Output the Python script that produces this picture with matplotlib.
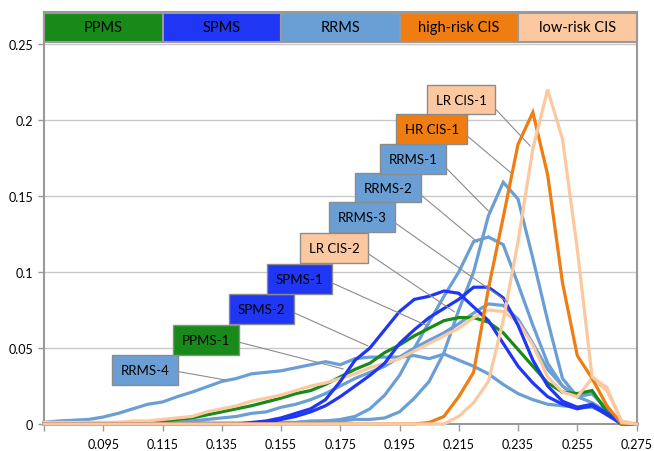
import matplotlib
matplotlib.use("Agg")
import matplotlib.pyplot as plt
from matplotlib.patches import Rectangle

plt.rcParams['font.family'] = ['Lato', 'DejaVu Sans']

# bin centres (category axis)
bins = [0.075, 0.080, 0.085, 0.090, 0.095, 0.100, 0.105, 0.110, 0.115, 0.120,
        0.125, 0.130, 0.135, 0.140, 0.145, 0.150, 0.155, 0.160, 0.165, 0.170,
        0.175, 0.180, 0.185, 0.190, 0.195, 0.200, 0.205, 0.210, 0.215, 0.220,
        0.225, 0.230, 0.235, 0.240, 0.245, 0.250, 0.255, 0.260, 0.265, 0.270,
        0.275]

rrms_4 = [0.001, 0.002, 0.0025, 0.003, 0.0046, 0.007, 0.010, 0.013, 0.0145, 0.018,
          0.021, 0.0245, 0.028, 0.030, 0.033, 0.034, 0.035, 0.037, 0.039, 0.041,
          0.039, 0.043, 0.044, 0.044, 0.044, 0.045, 0.043, 0.046, 0.042, 0.038,
          0.033, 0.026, 0.020, 0.016, 0.013, 0.012, 0.011, 0.011, 0.007, 0.001,
          0.0]
rrms_3 = [0.001, 0.001, 0.001, 0.001, 0.001, 0.001, 0.001, 0.001, 0.001, 0.001,
          0.002, 0.003, 0.004, 0.005, 0.007, 0.008, 0.011, 0.013, 0.016, 0.020,
          0.025, 0.030, 0.034, 0.038, 0.044, 0.050, 0.055, 0.060, 0.066, 0.073,
          0.079, 0.078, 0.069, 0.053, 0.036, 0.025, 0.018, 0.020, 0.010, 0.0,
          0.0]
rrms_2 = [0.0005, 0.0005, 0.0005, 0.0005, 0.0005, 0.0005, 0.0005, 0.0005, 0.0005, 0.0005,
          0.0005, 0.0005, 0.0005, 0.0005, 0.0005, 0.0005, 0.001, 0.001, 0.002, 0.002,
          0.003, 0.005, 0.010, 0.019, 0.032, 0.050, 0.067, 0.084, 0.100, 0.120,
          0.123, 0.118, 0.092, 0.065, 0.040, 0.025, 0.018, 0.020, 0.010, 0.0,
          0.0]
rrms_1 = [0.0005, 0.0005, 0.0005, 0.0005, 0.0005, 0.0005, 0.0005, 0.0005, 0.0005, 0.0005,
          0.0005, 0.0005, 0.0005, 0.0005, 0.0005, 0.0005, 0.001, 0.001, 0.0015, 0.002,
          0.002, 0.003, 0.003, 0.004, 0.008, 0.017, 0.028, 0.047, 0.075, 0.100,
          0.137, 0.159, 0.148, 0.109, 0.068, 0.030, 0.018, 0.014, 0.008, 0.0,
          0.0]
ppms_1 = [0.0005, 0.0005, 0.0005, 0.0005, 0.0005, 0.0005, 0.0005, 0.0005, 0.002, 0.003,
          0.004, 0.006, 0.008, 0.010, 0.012, 0.0145, 0.017, 0.020, 0.022, 0.026,
          0.031, 0.036, 0.040, 0.047, 0.052, 0.058, 0.063, 0.068, 0.070, 0.070,
          0.067, 0.060, 0.049, 0.038, 0.027, 0.021, 0.020, 0.022, 0.008, 0.0,
          0.0]
spms_2 = [0.0, 0.0, 0.0, 0.0, 0.0, 0.0, 0.0, 0.0, 0.0, 0.0,
          0.0, 0.0, 0.0, 0.0, 0.001, 0.002, 0.004, 0.007, 0.010, 0.016,
          0.028, 0.042, 0.050, 0.062, 0.074, 0.082, 0.084, 0.0875, 0.086, 0.077,
          0.068, 0.053, 0.038, 0.027, 0.018, 0.013, 0.010, 0.012, 0.006, 0.0,
          0.0]
spms_1 = [0.0, 0.0, 0.0, 0.0, 0.0, 0.0, 0.0, 0.0, 0.0, 0.0,
          0.0, 0.0, 0.0, 0.0, 0.0, 0.001, 0.003, 0.005, 0.008, 0.012,
          0.018, 0.025, 0.032, 0.040, 0.053, 0.062, 0.070, 0.076, 0.082, 0.090,
          0.090, 0.083, 0.065, 0.042, 0.025, 0.015, 0.011, 0.013, 0.007, 0.0,
          0.0]
lr_cis_2 = [0.001, 0.001, 0.001, 0.001, 0.001, 0.001, 0.002, 0.002, 0.003, 0.004,
            0.005, 0.008, 0.010, 0.012, 0.015, 0.017, 0.019, 0.022, 0.025, 0.027,
            0.030, 0.033, 0.037, 0.040, 0.043, 0.048, 0.053, 0.058, 0.063, 0.070,
            0.075, 0.074, 0.067, 0.052, 0.031, 0.021, 0.018, 0.030, 0.022, 0.002,
            0.0]
hr_cis_1 = [0.0, 0.0, 0.0, 0.0, 0.0, 0.0, 0.0, 0.0, 0.0, 0.0,
            0.0, 0.0, 0.0, 0.0, 0.0, 0.0, 0.0, 0.0, 0.0, 0.0,
            0.0, 0.0, 0.0, 0.0, 0.0, 0.0, 0.001, 0.005, 0.018, 0.034,
            0.089, 0.136, 0.184, 0.205, 0.164, 0.093, 0.045, 0.030, 0.012, 0.0,
            0.0]
lr_cis_1 = [0.0, 0.0, 0.0, 0.0, 0.0, 0.0, 0.0, 0.0, 0.0, 0.0,
            0.0, 0.0, 0.0, 0.0, 0.0, 0.0, 0.0, 0.0, 0.0, 0.0,
            0.0, 0.0, 0.0, 0.0, 0.0, 0.0, 0.0, 0.0, 0.005, 0.014,
            0.028, 0.068, 0.120, 0.181, 0.220, 0.1875, 0.115, 0.031, 0.024, 0.001,
            0.0]

groups = ["PPMS", "SPMS", "RRMS", "high-risk CIS", "low-risk CIS"]

GREEN = '#178a1a'
BLUE = '#1f36f5'
LBLUE = '#6a9fd6'
ORANGE = '#f07d12'
PEACH = '#fbc8a0'
group_colors = [GREEN, BLUE, LBLUE, ORANGE, PEACH]

# (name, values, colour, label centre, leader end)
series = [
    ("RRMS-4", rrms_4, LBLUE, (0.1092, 0.0355), (0.1364, 0.0289)),
    ("RRMS-3", rrms_3, LBLUE, (0.1824, 0.1362), (0.2314, 0.0803)),
    ("RRMS-2", rrms_2, LBLUE, (0.1911, 0.1553), (0.2213, 0.1197)),
    ("RRMS-1", rrms_1, LBLUE, (0.1995, 0.1743), (0.2250, 0.1401)),
    ("PPMS-1", ppms_1, GREEN, (0.1297, 0.0553), (0.1760, 0.0362)),
    ("LR CIS-2", lr_cis_2, PEACH, (0.1730, 0.1158), (0.2136, 0.0737)),
    ("SPMS-2", spms_2, BLUE, (0.1485, 0.0757), (0.1844, 0.0513)),
    ("SPMS-1", spms_1, BLUE, (0.1612, 0.0954), (0.2045, 0.0645)),
    ("HR CIS-1", hr_cis_1, ORANGE, (0.2059, 0.1941), (0.2327, 0.1651)),
    ("LR CIS-1", lr_cis_1, PEACH, (0.2159, 0.2132), (0.2391, 0.1829)),
]

fig = plt.figure(figsize=(6.54, 4.52), dpi=100)
ax = fig.add_axes([0.0673, 0.0597, 0.906, 0.9115])

for name, vals, col, _, _ in series:
    ax.plot(bins, vals, color=col, linewidth=2.3, solid_joinstyle='miter', clip_on=False, zorder=3)

for name, vals, col, pos, end in series:
    ax.annotate(name, xy=end, xytext=pos, ha='center', va='center', fontsize=9.5,
                bbox=dict(boxstyle='square,pad=0.65', fc=col, ec='#8c8c8c', lw=1.0),
                arrowprops=dict(arrowstyle='-', color='#8c8c8c', lw=0.8,
                                shrinkA=0, shrinkB=0, relpos=(1.0, 0.5)),
                zorder=5)

# group legend bar along the top
for k, (g, col) in enumerate(zip(groups, group_colors)):
    ax.add_patch(Rectangle((k * 0.2, 0.927), 0.2, 0.071, transform=ax.transAxes,
                           fc=col, ec='#999999', lw=1.5, clip_on=False, zorder=6))
    ax.text(k * 0.2 + 0.1, 0.9625, g, transform=ax.transAxes, ha='center', va='center',
            fontsize=10.5, zorder=7)

ax.set_xlim(0.075, 0.275)
ax.set_ylim(0, 0.271)
ax.set_yticks([0, 0.05, 0.1, 0.15, 0.2, 0.25])
ax.set_yticklabels(["0", "0.05", "0.1", "0.15", "0.2", "0.25"])
xt = [0.075, 0.095, 0.115, 0.135, 0.155, 0.175, 0.195, 0.215, 0.235, 0.255, 0.275]
ax.set_xticks(xt)
ax.set_xticklabels([""] + ["%.3f" % v for v in xt[1:]])
ax.tick_params(axis='x', length=5, width=1, color='#999999', pad=5, labelsize=9)
ax.tick_params(axis='y', length=4, width=1, color='#999999', pad=4, labelsize=9)
ax.grid(axis='y', color='#c8c8c8', linewidth=1)
ax.set_axisbelow(True)
for s in ax.spines.values():
    s.set_color('#999999')
    s.set_linewidth(1.5)

fig.savefig("out.png", dpi=100)
